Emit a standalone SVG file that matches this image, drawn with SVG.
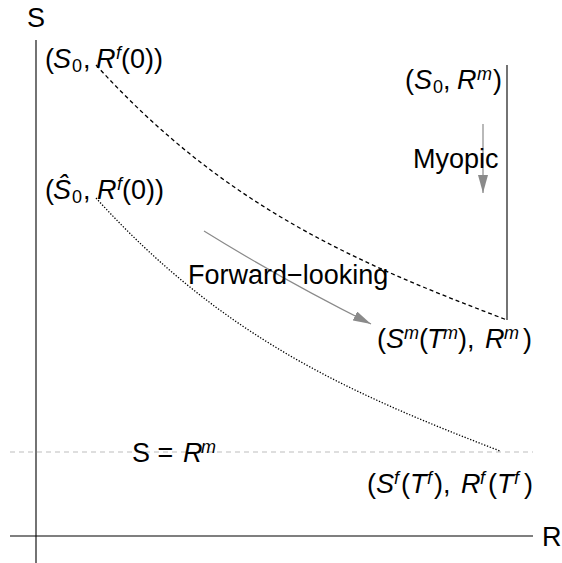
<svg xmlns="http://www.w3.org/2000/svg" width="562" height="563" viewBox="0 0 562 563">
<style>
text{font-family:"Liberation Sans",Arial,sans-serif;font-size:27px;fill:#000}
.i{font-style:italic}
.s{font-size:18px}
.ax{stroke:#000;stroke-width:1.1;fill:none}
.dash{stroke:#000;stroke-width:1.3;fill:none;stroke-dasharray:4 3}
.dot{stroke:#000;stroke-width:1.3;fill:none;stroke-dasharray:1.3 1.7}
.ref{stroke:#bdbdbd;stroke-width:1.2;fill:none;stroke-dasharray:5 4}
.arr{stroke:#8a8a8a;stroke-width:1.2;fill:none;marker-end:url(#ah)}
</style>
<defs>
<marker id="ah" markerUnits="userSpaceOnUse" markerWidth="18" markerHeight="10" refX="18" refY="5" orient="auto" viewBox="0 0 18 10">
<path d="M0,0 L18,5 L0,10 z" fill="#8a8a8a"/>
</marker>
</defs>
<g id="axes">
<line class="ax" x1="36" y1="40" x2="36" y2="563"/>
<line class="ax" x1="10" y1="536" x2="533" y2="536"/>
<text x="27" y="27">S</text>
<text x="542" y="546">R</text>
</g>
<g id="connectors">
<line class="ref" x1="10" y1="452" x2="533" y2="452"/>
<path class="dash" d="M96,65 C226,208 357,263 507,320"/>
<line class="ax" x1="507" y1="65" x2="507" y2="320"/>
<path class="dot" d="M96,198 C224,339 352,394 500,451"/>
<line class="arr" x1="483" y1="124" x2="483" y2="193"/>
<path class="arr" d="M204,231 Q283,280 371,324"/>
</g>
<g id="label-S0-Rf0">
<text y="68"><tspan x="45">(</tspan><tspan class="i" x="53">S</tspan><tspan class="s" x="72" y="72">0</tspan><tspan x="83" y="68">,</tspan><tspan class="i" x="96">R</tspan><tspan class="i s" x="116" y="59">f</tspan><tspan x="121" y="68">(0))</tspan></text>
</g>
<g id="label-S0-Rm">
<text y="89"><tspan x="405">(</tspan><tspan class="i" x="414">S</tspan><tspan class="s" x="433" y="93">0</tspan><tspan x="443" y="89">,</tspan><tspan class="i" x="457">R</tspan><tspan class="i s" x="477" y="80">m</tspan><tspan x="493" y="89">)</tspan></text>
</g>
<g id="label-Shat0-Rf0">
<text y="199"><tspan x="45">(</tspan><tspan class="i" x="53">Ŝ</tspan><tspan class="s" x="72" y="203">0</tspan><tspan x="83" y="199">,</tspan><tspan class="i" x="97">R</tspan><tspan class="i s" x="117" y="190">f</tspan><tspan x="122" y="199">(0))</tspan></text>
</g>
<g id="label-Sm-Rm">
<text y="348"><tspan x="377">(</tspan><tspan class="i" x="386">S</tspan><tspan class="i s" x="404" y="339">m</tspan><tspan x="419" y="348">(</tspan><tspan class="i" x="427">T</tspan><tspan class="i s" x="443" y="339">m</tspan><tspan x="458" y="348">),</tspan><tspan class="i" x="485">R</tspan><tspan class="i s" x="504" y="339">m</tspan><tspan x="523" y="348">)</tspan></text>
</g>
<g id="label-Sf-Rf">
<text y="493"><tspan x="367">(</tspan><tspan class="i" x="376">S</tspan><tspan class="i s" x="394" y="484">f</tspan><tspan x="401" y="493">(</tspan><tspan class="i" x="410">T</tspan><tspan class="i s" x="427" y="484">f</tspan><tspan x="434" y="493">),</tspan><tspan class="i" x="461">R</tspan><tspan class="i s" x="480" y="484">f</tspan><tspan x="488" y="493">(</tspan><tspan class="i" x="497">T</tspan><tspan class="i s" x="514" y="484">f</tspan><tspan x="524" y="493">)</tspan></text>
</g>
<g id="label-S-Rm">
<text y="462"><tspan x="132">S = </tspan><tspan class="i" x="183">R</tspan><tspan class="i s" x="201" y="453">m</tspan></text>
</g>
<g id="label-myopic">
<text x="413" y="168">Myopic</text>
</g>
<g id="label-forward">
<text x="188" y="284">Forward−looking</text>
</g>
</svg>
